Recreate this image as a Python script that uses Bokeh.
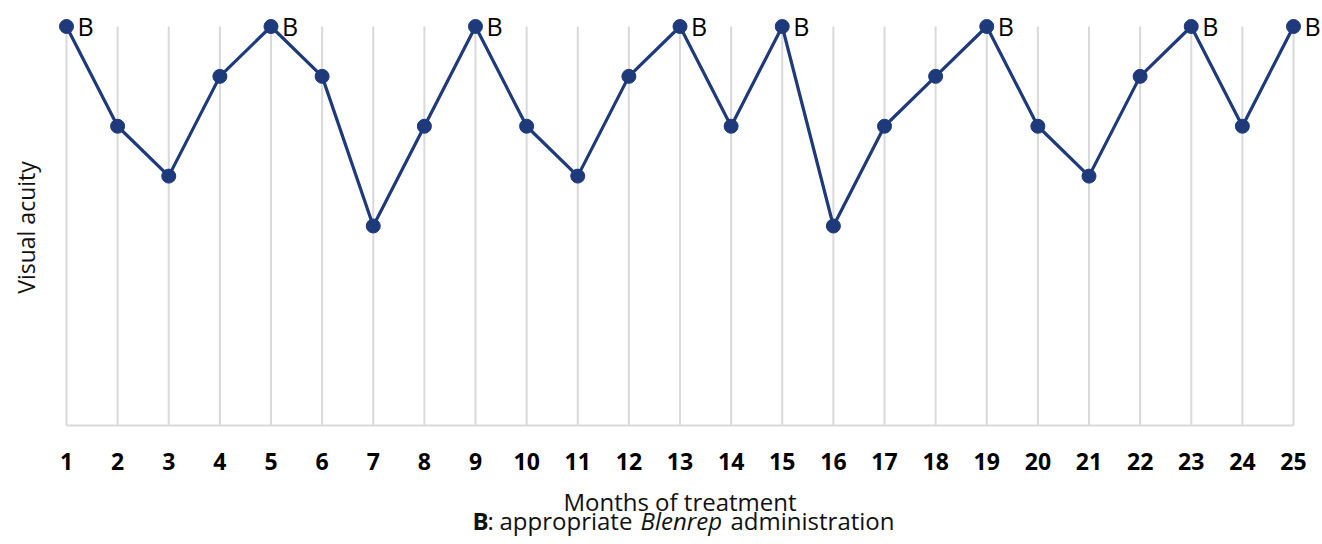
import math
from bokeh.plotting import figure
from bokeh.models import Range1d, Label
from bokeh.core.properties import value
from bokeh.embed import file_html
from bokeh.resources import INLINE

months = list(range(1, 26))
acuity = [8, 6, 5, 7, 8, 7, 4, 6, 8, 6, 5, 7, 8, 6, 8, 4, 6, 7, 8, 6, 5, 7, 8, 6, 8]
blenrep_months = [1, 5, 9, 13, 15, 19, 23, 25]
blenrep_acuity = [acuity[months.index(m)] for m in blenrep_months]
blenrep_text = ["B"] * len(blenrep_months)
tick_labels = [str(m) for m in months]
y_top = 8
y_bottom = 0

NAVY = "#1e3a7b"
GRID = "#d9d9d9"
FONT = "Open Sans"
TXT = "#111111"

W, H = 1322, 544
p = figure(width=W, height=H, output_backend="svg", toolbar_location=None,
           x_range=Range1d(-0.2910, 25.5672), y_range=Range1d(-2.3860, 8.5213),
           min_border_left=0, min_border_right=0, min_border_top=0, min_border_bottom=0)
p.outline_line_color = None
p.grid.visible = False
p.axis.visible = False

# vertical gridlines and baseline
p.segment(x0=months, y0=[y_bottom] * len(months), x1=months, y1=[y_top] * len(months),
          line_color=GRID, line_width=2)
p.segment(x0=[months[0]], y0=[y_bottom], x1=[months[-1]], y1=[y_bottom],
          line_color=GRID, line_width=2)

# series
p.line(months, acuity, line_color=NAVY, line_width=3.2)
p.scatter(months, acuity, size=14, fill_color=NAVY, line_color=NAVY)

# "B" markers
p.text(x=blenrep_months, y=blenrep_acuity, text=blenrep_text, x_offset=11,
       text_align="left", text_baseline="middle", text_font=value(FONT),
       text_font_size="25px", text_color="#000000")

# x tick labels (on the data scale)
p.text(x=months, y=[y_bottom] * len(months), text=tick_labels, y_offset=36,
       text_align="center", text_baseline="middle", text_font=value(FONT),
       text_font_size="23px", text_font_style="bold", text_color="#000000")

# y title
p.add_layout(Label(x=25, y=H - 227, x_units="screen", y_units="screen", text="Visual acuity",
                   angle=math.pi / 2, text_align="center", text_baseline="middle",
                   text_font=FONT, text_font_size="23px", text_color=TXT))

# x title
p.add_layout(Label(x=679.5, y=H - 501, x_units="screen", y_units="screen",
                   text="Months of treatment", text_align="center", text_baseline="middle",
                   text_font=FONT, text_font_size="24px", text_color=TXT))

# caption line
parts = [
    ("B", 472, "bold"),
    (":", 487, "normal"),
    ("appropriate", 499, "normal"),
    ("Blenrep", 640, "italic"),
    ("administration", 730, "normal"),
]
for txt, sx, style in parts:
    p.add_layout(Label(x=sx, y=H - 520, x_units="screen", y_units="screen", text=txt,
                       text_align="left", text_baseline="middle",
                       text_font=FONT, text_font_size="24px", text_font_style=style,
                       text_color=TXT))

open("out.html", "w").write(file_html(p, INLINE))
